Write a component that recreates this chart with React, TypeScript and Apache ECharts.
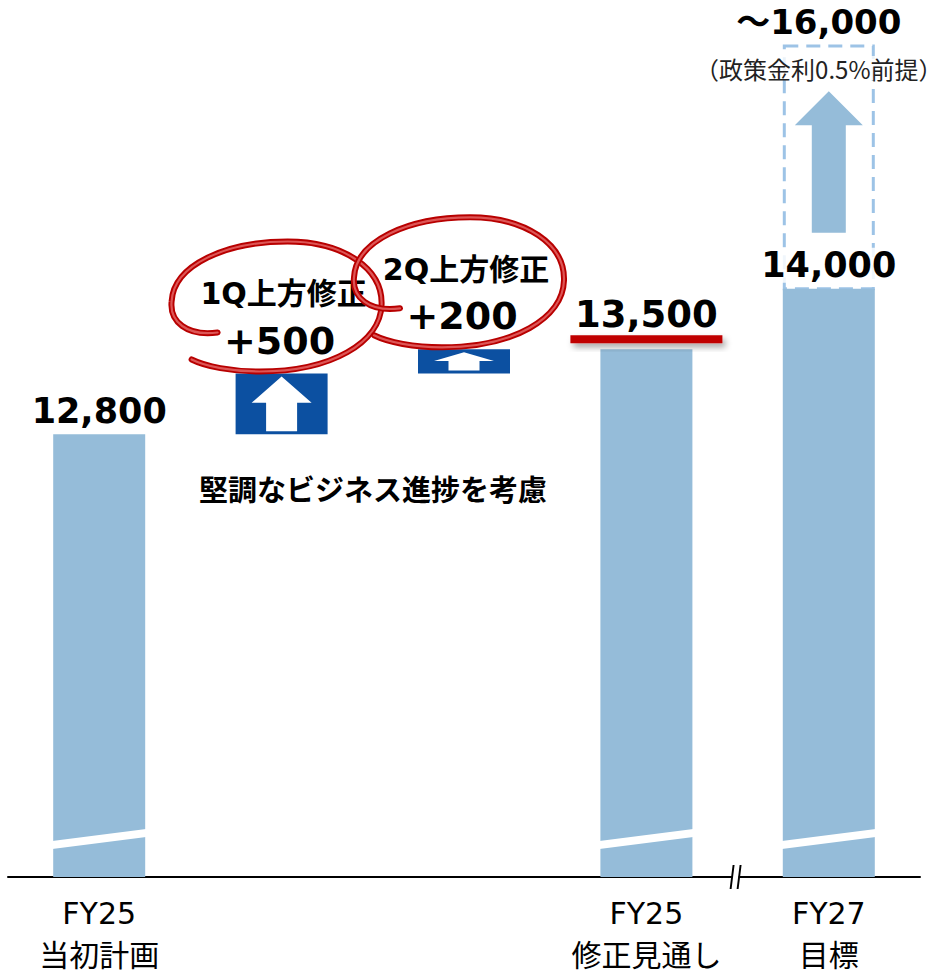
import { useEffect, useRef } from 'react';
import * as echarts from 'echarts';

// ---- data ----
const categories = ['FY25\n当初計画', '', '', 'FY25\n修正見通し', 'FY27\n目標'];
const barValues: (number | string)[] = [12800, '-', '-', 13500, 14000];
const revisionTitles = ['1Q上方修正', '2Q上方修正'];
const revisionValues = [500, 200];
const upsideFrom = 14000;
const upsideTarget = 16000;
const upsideNote = '（政策金利0.5%前提）';
const noteText = '堅調なビジネス進捗を考慮';
const breakBars = [0, 3, 4];
const axisBreakBetween = [3, 4];

// ---- styles ----
const Y_MIN = 9150;
const Y_MAX = 16000;
const NUM_FONT = "'DejaVu Sans', 'Noto Sans CJK JP', sans-serif";
const JP_FONT = "'Noto Sans CJK JP', sans-serif";
const BAR_COLOR = '#95BCD9';
const DASH_COLOR = '#9DC3E6';
const DARK_BLUE = '#0C50A1';
const RED = '#B80000';
const BAR_W = 92;

const fmt = (v: number) => v.toLocaleString('en-US');

function buildRevisionData() {
  let base = barValues[0] as number;
  return revisionValues.map((d, i) => {
    const item = [i + 1, base, base + d, i];
    base += d;
    return item;
  });
}

function arrowPoints(cx: number, top: number, headBottom: number, bottom: number, headHalf: number, shaftHalf: number) {
  return [
    [cx, top],
    [cx + headHalf, headBottom],
    [cx + shaftHalf, headBottom],
    [cx + shaftHalf, bottom],
    [cx - shaftHalf, bottom],
    [cx - shaftHalf, headBottom],
    [cx - headHalf, headBottom],
  ];
}

// hand-drawn loop, relative to the revision box (centre x, top y)
function loopPath(cx: number, top: number) {
  const P = (dx: number, dy: number) => `${(cx + dx).toFixed(1)} ${(top + dy).toFixed(1)}`;
  return [
    `M ${P(-64, -44)}`,
    `C ${P(-95, -40)} ${P(-112, -55)} ${P(-110, -75)}`,
    `C ${P(-108, -112)} ${P(-55, -135)} ${P(6, -135)}`,
    `C ${P(62, -135)} ${P(101, -108)} ${P(100, -72)}`,
    `C ${P(99, -34)} ${P(50, -5)} ${P(-22, -5)}`,
    `C ${P(-50, -5)} ${P(-76, -10)} ${P(-90, -17)}`,
  ].join(' ');
}

const plainLabel = {
  show: true,
  position: 'top',
  distance: 6,
  formatter: (p: any) => fmt(p.value),
  fontFamily: NUM_FONT,
  fontWeight: 'bold',
  fontSize: 35,
  color: '#000',
};

const underlinedLabel = {
  show: true,
  position: 'top',
  distance: 6,
  formatter: (p: any) => `{v|${fmt(p.value)}}\n{u| }`,
  rich: {
    v: { fontFamily: NUM_FONT, fontWeight: 'bold', fontSize: 37, lineHeight: 42, color: '#000' },
    u: {
      backgroundColor: '#C00000',
      width: 152,
      height: 8,
      lineHeight: 8,
      fontSize: 1,
      shadowColor: 'rgba(0,0,0,0.35)',
      shadowBlur: 6,
      shadowOffsetX: 3,
      shadowOffsetY: 4,
    },
  },
};

const boxedLabel = {
  show: true,
  position: 'top',
  distance: 6,
  formatter: (p: any) => fmt(p.value),
  fontFamily: NUM_FONT,
  fontWeight: 'bold',
  fontSize: 35,
  color: '#000',
  backgroundColor: 'rgba(255,255,255,0.85)',
  padding: [0, 4],
};

const labelStyles: any[] = [plainLabel, null, null, underlinedLabel, boxedLabel];

export default function App() {
  const ref = useRef<HTMLDivElement>(null);

  useEffect(() => {
    if (!ref.current) return;
    const chart = echarts.init(ref.current, undefined, { renderer: 'svg' });

    const option: any = {
      animation: false,
      grid: { left: 8, right: 27, top: 46, bottom: 100, containLabel: false, outerBoundsMode: 'none' },
      xAxis: {
        type: 'category',
        data: categories,
        axisTick: { show: false },
        axisLine: { lineStyle: { color: '#000', width: 2 } },
        axisLabel: {
          interval: 0,
          fontSize: 30,
          fontFamily: NUM_FONT,
          color: '#000',
          lineHeight: 42,
          margin: 15,
        },
      },
      yAxis: { type: 'value', min: Y_MIN, max: Y_MAX, show: false, splitLine: { show: false } },
      series: [
        {
          type: 'custom',
          name: 'upside',
          z: 1,
          data: [[4, upsideFrom, upsideTarget]],
          encode: { x: 0, y: [1, 2] },
          renderItem: (params: any, api: any) => {
            const ci = api.value(0);
            const pLo = api.coord([ci, api.value(1)]);
            const pHi = api.coord([ci, api.value(2)]);
            const cx = pLo[0];
            const top = pHi[1];
            const bot = pLo[1];
            const h = bot - top;
            return {
              type: 'group',
              children: [
                {
                  type: 'rect',
                  shape: { x: cx - BAR_W / 2 + 1.5, y: top, width: BAR_W - 3, height: h },
                  style: { fill: 'none', stroke: DASH_COLOR, lineWidth: 3, lineDash: [14, 8] },
                },
                {
                  type: 'polygon',
                  shape: {
                    points: arrowPoints(cx, top + 0.187 * h, top + 0.327 * h, bot - 0.23 * h, 34, 17),
                  },
                  style: { fill: BAR_COLOR },
                },
                {
                  type: 'text',
                  x: cx - 10,
                  y: top + 22,
                  style: {
                    text: upsideNote,
                    fontSize: 24,
                    fontFamily: JP_FONT,
                    fill: '#222',
                    align: 'center',
                    verticalAlign: 'middle',
                    backgroundColor: 'rgba(255,255,255,0.8)',
                  },
                },
                {
                  type: 'text',
                  x: cx - 10,
                  y: top - 24,
                  style: {
                    text: '～' + fmt(api.value(2)),
                    fontSize: 34,
                    fontWeight: 'bold',
                    fontFamily: NUM_FONT,
                    fill: '#000',
                    align: 'center',
                    verticalAlign: 'middle',
                  },
                },
              ],
            };
          },
        },
        {
          type: 'bar',
          name: 'value',
          barWidth: BAR_W,
          itemStyle: { color: BAR_COLOR },
          data: barValues.map((v, i) => ({ value: v, label: labelStyles[i] || { show: false } })),
        },
        {
          type: 'custom',
          name: 'revision',
          z: 2,
          data: buildRevisionData(),
          encode: { x: 0, y: [1, 2] },
          renderItem: (params: any, api: any) => {
            const ci = api.value(0);
            const idx = api.value(3);
            const pLo = api.coord([ci, api.value(1)]);
            const pHi = api.coord([ci, api.value(2)]);
            const cx = pLo[0];
            const top = pHi[1];
            const bot = pLo[1];
            const h = bot - top;
            const m = 3;
            const ah = (h - 2 * m) * 0.48;
            const delta = api.value(2) - api.value(1);
            const d = loopPath(cx, top + 3);
            return {
              type: 'group',
              children: [
                {
                  type: 'rect',
                  shape: { x: cx - BAR_W / 2, y: top, width: BAR_W, height: h },
                  style: { fill: DARK_BLUE },
                },
                {
                  type: 'polygon',
                  shape: { points: arrowPoints(cx, top + m, top + m + ah, bot - m, 30, 15.5) },
                  style: { fill: '#fff' },
                },
                {
                  type: 'path',
                  shape: { pathData: d },
                  style: { fill: 'none', stroke: RED, lineWidth: 6, lineCap: 'round', lineJoin: 'round' },
                },
                {
                  type: 'path',
                  shape: { pathData: d },
                  style: { fill: 'none', stroke: 'rgba(225,95,95,0.9)', lineWidth: 2.2, lineCap: 'round' },
                },
                {
                  type: 'text',
                  x: cx + 2,
                  y: top - 80,
                  style: {
                    text: revisionTitles[idx],
                    fontSize: 30,
                    fontWeight: 'bold',
                    fontFamily: NUM_FONT,
                    fill: '#000',
                    align: 'center',
                    verticalAlign: 'middle',
                  },
                },
                {
                  type: 'text',
                  x: cx - 2,
                  y: top - 33,
                  style: {
                    text: '+' + fmt(delta),
                    fontSize: 38,
                    fontWeight: 'bold',
                    fontFamily: NUM_FONT,
                    fill: '#000',
                    align: 'center',
                    verticalAlign: 'middle',
                  },
                },
              ],
            };
          },
        },
        {
          type: 'custom',
          name: 'barBreak',
          z: 3,
          data: breakBars.map((i) => [i]),
          encode: { x: 0 },
          renderItem: (params: any, api: any) => {
            const c = api.coord([api.value(0), Y_MIN]);
            const x0 = c[0] - BAR_W / 2 - 1;
            const x1 = c[0] + BAR_W / 2 + 1;
            const b = c[1];
            return {
              type: 'polygon',
              shape: { points: [[x0, b - 28], [x1, b - 40], [x1, b - 48], [x0, b - 36]] },
              style: { fill: '#fff' },
            };
          },
        },
        {
          type: 'custom',
          name: 'axisBreak',
          z: 4,
          data: [axisBreakBetween],
          encode: { x: [0, 1] },
          renderItem: (params: any, api: any) => {
            const a = api.coord([api.value(0), Y_MIN]);
            const b = api.coord([api.value(1), Y_MIN]);
            const mx = (a[0] + b[0]) / 2 - 2;
            const by = a[1];
            return {
              type: 'group',
              children: [
                { type: 'rect', shape: { x: mx - 3, y: by - 4, width: 6, height: 8 }, style: { fill: '#fff' } },
                { type: 'line', shape: { x1: mx - 2, y1: by - 12, x2: mx - 5, y2: by + 12 }, style: { stroke: '#000', lineWidth: 2 } },
                { type: 'line', shape: { x1: mx + 5, y1: by - 12, x2: mx + 2, y2: by + 12 }, style: { stroke: '#000', lineWidth: 2 } },
              ],
            };
          },
        },
      ],
      graphic: [
        {
          type: 'text',
          x: 373,
          y: 488,
          style: {
            text: noteText,
            fontSize: 29,
            fontWeight: 'bold',
            fontFamily: JP_FONT,
            fill: '#000',
            align: 'center',
            verticalAlign: 'middle',
          },
        },
      ],
    };

    chart.setOption(option);
    return () => chart.dispose();
  }, []);

  return (
    <div
      ref={ref}
      style={{ position: 'absolute', left: 0, top: 0, width: 947, height: 977, background: '#fff' }}
    />
  );
}
